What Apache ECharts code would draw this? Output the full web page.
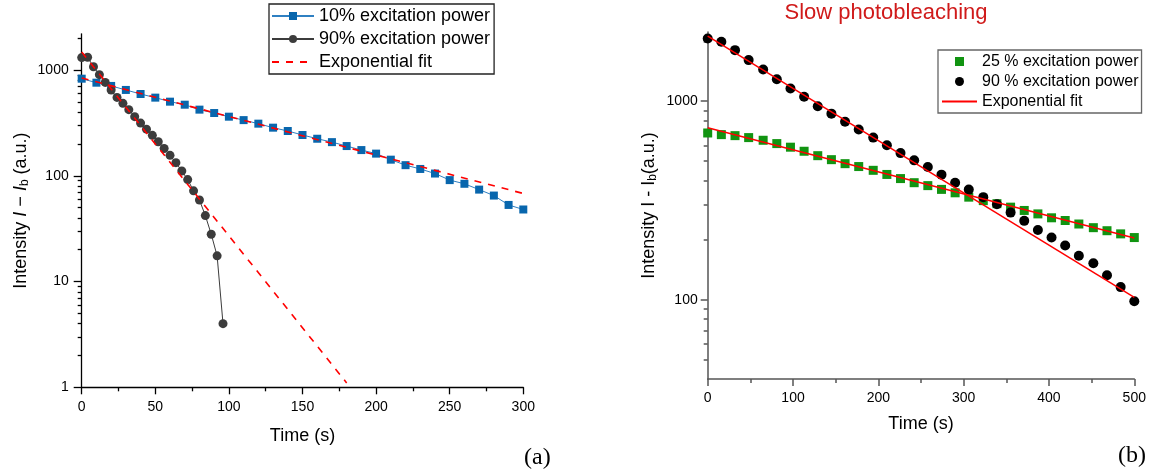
<!DOCTYPE html>
<html>
<head>
<meta charset="utf-8">
<script src="https://cdn.jsdelivr.net/npm/echarts@6/dist/echarts.min.js"></script>
<style>
html,body{margin:0;padding:0;background:#fff;}
#chart{width:1172px;height:475px;}
</style>
</head>
<body>
<div id="chart"></div>
<script>
// ---------- data: panel (a) ----------
const leftTime10 = [0,10,20,30,40,50,60,70,80,90,100,110,120,130,140,150,160,170,180,190,200,210,220,230,240,250,260,270,280,290,300];
const leftInt10  = [828,759,707,648,593,548,502,470,422,392,362,336,311,285,265,243,224,208,191,175,162,142,126,116,105,91,84,74,65,53,48];
const leftTime90 = [0,4,8,12,16,20,24,28,32,36,40,44,48,52,56,60,64,68,72,76,80,84,88,92,96];
const leftInt90  = [1310,1320,1075,904,764,647,551,484,422,362,315,276,241,210,181,156,133,111,92,72,59,42,28,17.5,4.0];
const leftFit10Time = [0,300];
const leftFit10Int  = [840,68];
const leftFit90Time = [0,180];
const leftFit90Int  = [1480,1.1];
const leftYLabels = [1,10,100,1000];
const leftYMinor  = [2,3,4,5,6,7,8,9,20,30,40,50,60,70,80,90,200,300,400,500,600,700,800,900,2000];

// ---------- data: panel (b) ----------
const rightTime  = [0,16,32,48,65,81,97,113,129,145,161,177,194,210,226,242,258,274,290,306,323,339,355,371,387,403,419,435,452,468,484,500];
const rightInt25 = [692,679,671,656,636,612,587,560,532,508,485,469,449,428,408,389,376,360,346,329,316,305,293,282,271,259,251,241,231,223,215,206];
const rightInt90 = [2070,1992,1807,1610,1445,1291,1159,1052,944,866,788,720,656,600,548,504,467,427,389,359,329,303,275,250,225,206,188,167,153,133,116,98.5];
const rightFit25Time = [0,500];
const rightFit25Int  = [735,205];
const rightFit90Time = [0,500];
const rightFit90Int  = [2128,103];
const rightYLabels = [100,1000];
const rightYMinor  = [50,60,70,80,90,200,300,400,500,600,700,800,900,2000];

const pairs = (xs, ys) => xs.map((x, i) => [x, ys[i]]);
const FONT = '"Liberation Sans", Arial, sans-serif';

const chart = echarts.init(document.getElementById('chart'), null, {renderer: 'canvas'});

const nameRich = {
  n: {fontSize: 18, fontFamily: FONT, color: '#000'},
  i: {fontSize: 18, fontFamily: FONT, fontStyle: 'italic', color: '#000'},
  s: {fontSize: 12, fontFamily: FONT, color: '#000', verticalAlign: 'bottom', padding: [7, 0, 0, 0]}
};

function xAxisCfg(gridIndex, max, interval, color, width, gap, margin) {
  return {
    type: 'value', gridIndex, min: 0, max, interval,
    name: 'Time (s)', nameLocation: 'middle', nameGap: gap,
    nameTextStyle: {fontSize: 18, fontFamily: FONT, color: '#000'},
    axisLine: {show: true, onZero: false, lineStyle: {color, width}},
    axisTick: {show: true, length: 7, lineStyle: {color, width}},
    minorTick: {show: true, splitNumber: 2, length: 4, lineStyle: {color, width}},
    splitLine: {show: false},
    axisLabel: {fontSize: 14, fontFamily: FONT, color: '#000', margin}
  };
}

const option = {
  animation: false,
  backgroundColor: '#fff',
  title: {
    text: 'Slow photobleaching',
    left: 886, top: 2, textAlign: 'center', padding: 0,
    textStyle: {color: '#d01a1a', fontSize: 22, fontWeight: 'normal', fontFamily: FONT}
  },
  legend: [
    {
      left: 269, top: 4, orient: 'vertical',
      itemWidth: 42, itemHeight: 10, itemGap: 5,
      padding: [3, 4, 3, 2],
      borderColor: '#222', borderWidth: 1.3,
      textStyle: {fontSize: 18, fontFamily: FONT, color: '#000'},
      data: ['10% excitation power', '90% excitation power',
             {name: 'Exponential fit', itemStyle: {opacity: 0}}]
    },
    {
      left: 938, top: 50, orient: 'vertical',
      itemWidth: 35, itemHeight: 9, itemGap: 4,
      padding: [3.5, 3, 3.5, 3],
      borderColor: '#666', borderWidth: 1.3,
      textStyle: {fontSize: 16, fontFamily: FONT, color: '#000'},
      data: [{name: '25 % excitation power', icon: 'path://M0,0H10V10H0Z'},
             {name: '90 % excitation power', icon: 'circle'},
             {name: 'Exponential fit ', itemStyle: {opacity: 0}}]
    }
  ],
  grid: [
    {left: 81.7, top: 33.8, width: 441.6, height: 353.5},
    {left: 707.7, top: 32, width: 426.6, height: 347}
  ],
  xAxis: [
    xAxisCfg(0, 300, 50, '#000', 1.3, 40, 13),
    xAxisCfg(1, 500, 100, '#555', 1.5, 36, 12)
  ],
  yAxis: [
    {
      type: 'log', logBase: 10, gridIndex: 0, position: 'left', min: 1, max: 2200,
      name: '{n|Intensity }{i|I}{n| − }{i|I}{s|b}{n| (a.u.)}',
      nameLocation: 'middle', nameGap: 51,
      nameTextStyle: {rich: nameRich},
      axisLine: {show: true, lineStyle: {color: '#000', width: 1.3}},
      axisTick: {show: true, length: 8, customValues: leftYLabels, lineStyle: {color: '#000', width: 1.3}},
      axisLabel: {customValues: leftYLabels, fontSize: 14, fontFamily: FONT, color: '#000', margin: 13, formatter: v => String(v)},
      splitLine: {show: false}, minorTick: {show: false}
    },
    {
      type: 'log', logBase: 10, gridIndex: 0, position: 'left', min: 1, max: 2200,
      axisLine: {show: false},
      axisTick: {show: true, length: 4, customValues: leftYMinor, lineStyle: {color: '#000', width: 1.3}},
      axisLabel: {show: false}, splitLine: {show: false}
    },
    {
      type: 'log', logBase: 10, gridIndex: 1, position: 'left', min: 40, max: 2230,
      name: '{n|Intensity I - I}{s|b}{n|(a.u.)}',
      nameLocation: 'middle', nameGap: 49,
      nameTextStyle: {rich: nameRich},
      axisLine: {show: true, lineStyle: {color: '#555', width: 1.5}},
      axisTick: {show: true, length: 7, customValues: rightYLabels, lineStyle: {color: '#555', width: 1.5}},
      axisLabel: {customValues: rightYLabels, fontSize: 14, fontFamily: FONT, color: '#000', margin: 10, formatter: v => String(v)},
      splitLine: {show: false}, minorTick: {show: false}
    },
    {
      type: 'log', logBase: 10, gridIndex: 1, position: 'left', min: 40, max: 2230,
      axisLine: {show: false},
      axisTick: {show: true, length: 4, customValues: rightYMinor, lineStyle: {color: '#555', width: 1.5}},
      axisLabel: {show: false}, splitLine: {show: false}
    }
  ],
  graphic: [
    {type: 'text', left: 524, top: 446, style: {text: '(a)', font: '24px "Liberation Serif", "Times New Roman", serif', fill: '#000'}},
    {type: 'text', left: 1118, top: 444, style: {text: '(b)', font: '24px "Liberation Serif", "Times New Roman", serif', fill: '#000'}}
  ],
  series: [
    {
      name: '10% excitation power', type: 'line', xAxisIndex: 0, yAxisIndex: 0,
      data: pairs(leftTime10, leftInt10), clip: false,
      symbol: 'rect', symbolSize: 8,
      itemStyle: {color: '#0866ad'},
      lineStyle: {color: '#2f80c2', width: 1}
    },
    {
      name: '90% excitation power', type: 'line', xAxisIndex: 0, yAxisIndex: 0,
      data: pairs(leftTime90, leftInt90), clip: false,
      symbol: 'circle', symbolSize: 9,
      itemStyle: {color: '#3c3c3c'},
      lineStyle: {color: '#3c3c3c', width: 1}
    },
    {
      name: 'Exponential fit', type: 'line', xAxisIndex: 0, yAxisIndex: 0,
      data: pairs(leftFit10Time, leftFit10Int), symbol: 'none', clip: false,
      itemStyle: {color: '#ff0000'},
      lineStyle: {color: '#ff0000', width: 1.6, type: [7, 7]}, z: 5
    },
    {
      name: 'Exponential fit', type: 'line', xAxisIndex: 0, yAxisIndex: 0,
      data: pairs(leftFit90Time, leftFit90Int), symbol: 'none', clip: false,
      itemStyle: {color: '#ff0000'},
      lineStyle: {color: '#ff0000', width: 1.6, type: [7, 7]}, z: 5
    },
    {
      name: '25 % excitation power', type: 'scatter', xAxisIndex: 1, yAxisIndex: 2,
      data: pairs(rightTime, rightInt25), clip: false,
      symbol: 'rect', symbolSize: 9,
      itemStyle: {color: '#119411', opacity: 1}
    },
    {
      name: '90 % excitation power', type: 'scatter', xAxisIndex: 1, yAxisIndex: 2,
      data: pairs(rightTime, rightInt90), clip: false,
      symbol: 'circle', symbolSize: 10,
      itemStyle: {color: '#000', opacity: 1}
    },
    {
      name: 'Exponential fit ', type: 'line', xAxisIndex: 1, yAxisIndex: 2,
      data: pairs(rightFit25Time, rightFit25Int), symbol: 'none', clip: false,
      itemStyle: {color: '#ff0000'},
      lineStyle: {color: '#ff0000', width: 1.5}, z: 5
    },
    {
      name: 'Exponential fit ', type: 'line', xAxisIndex: 1, yAxisIndex: 2,
      data: pairs(rightFit90Time, rightFit90Int), symbol: 'none', clip: false,
      itemStyle: {color: '#ff0000'},
      lineStyle: {color: '#ff0000', width: 1.5}, z: 5
    }
  ]
};
chart.setOption(option);
</script>
</body>
</html>
